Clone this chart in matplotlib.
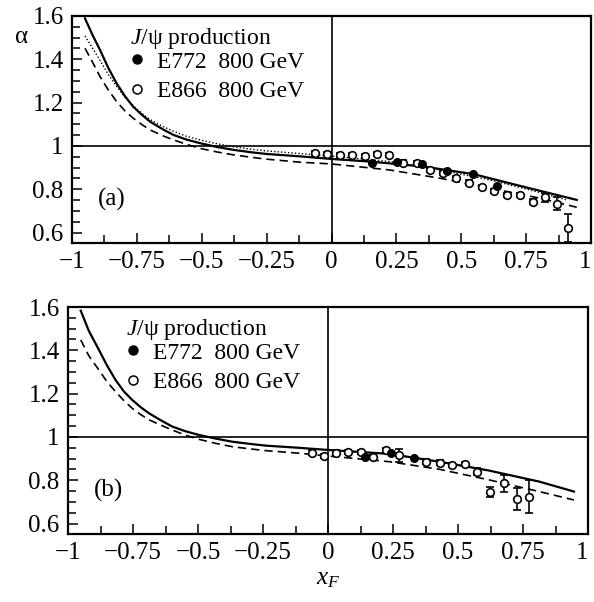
import matplotlib
matplotlib.use("Agg")
import matplotlib.pyplot as plt
from matplotlib.lines import Line2D
from matplotlib.ticker import MultipleLocator, FixedLocator, FixedFormatter

plt.rcParams['font.family'] = ['Liberation Serif', 'DejaVu Serif']
plt.rcParams['mathtext.fontset'] = 'custom'
plt.rcParams['mathtext.rm'] = 'Liberation Serif'
plt.rcParams['mathtext.it'] = 'Liberation Serif:italic'
plt.rcParams['axes.unicode_minus'] = True

FS = 17
TFS = 18

# ---------------- data ----------------
xticks = [-1, -0.75, -0.5, -0.25, 0, 0.25, 0.5, 0.75, 1]
xticklabels = ["\u22121", "\u22120.75", "\u22120.5", "\u22120.25", "0", "0.25", "0.5", "0.75", "1"]
yticks = [0.6, 0.8, 1.0, 1.2, 1.4, 1.6]
yticklabels = ["0.6", "0.8", "1", "1.2", "1.4", "1.6"]

# panel (a)
a_e866_x = [-0.064, -0.016, 0.033, 0.078, 0.129, 0.177, 0.223, 0.277, 0.328, 0.380, 0.431,
            0.480, 0.530, 0.579, 0.626, 0.678, 0.726, 0.778, 0.823, 0.870, 0.910]
a_e866_y = [0.966, 0.962, 0.959, 0.959, 0.954, 0.962, 0.959, 0.923, 0.920, 0.889, 0.874,
            0.851, 0.831, 0.812, 0.792, 0.774, 0.773, 0.743, 0.763, 0.733, 0.620]
a_e866_err = [0.01, 0.01, 0.01, 0.01, 0.01, 0.01, 0.01, 0.01, 0.01, 0.01, 0.01,
              0.01, 0.01, 0.01, 0.01, 0.01, 0.01, 0.01, 0.02, 0.03, 0.064]
a_e772_x = [0.155, 0.251, 0.348, 0.444, 0.544, 0.639]
a_e772_y = [0.923, 0.925, 0.916, 0.886, 0.870, 0.817]

a_solid_x = [-0.950, -0.920, -0.892, -0.860, -0.828, -0.796, -0.764, -0.730, -0.699, -0.650,
             -0.609, -0.560, -0.507, -0.440, -0.378, -0.310, -0.250, -0.121,
             0.0, 0.148, 0.354, 0.547, 0.739, 0.945]
a_solid_y = [1.589, 1.510, 1.443, 1.360, 1.289, 1.230, 1.181, 1.143, 1.112, 1.077,
             1.051, 1.030, 1.013, 0.995, 0.982, 0.971, 0.963, 0.952,
             0.940, 0.928, 0.905, 0.870, 0.812, 0.751]
a_dash_x = [-0.950, -0.920, -0.892, -0.860, -0.828, -0.796, -0.764, -0.730, -0.699, -0.650,
            -0.609, -0.560, -0.507, -0.440, -0.378, -0.310, -0.250, -0.121,
            0.0, 0.225, 0.418, 0.611, 0.803, 0.945]
a_dash_y = [1.451, 1.385, 1.320, 1.258, 1.205, 1.162, 1.128, 1.098, 1.074, 1.047,
            1.028, 1.008, 0.989, 0.972, 0.959, 0.948, 0.939, 0.925,
            0.917, 0.889, 0.851, 0.805, 0.759, 0.717]
a_dot_x = [-0.950, -0.920, -0.892, -0.860, -0.828, -0.796, -0.764, -0.730, -0.699, -0.650,
           -0.609, -0.560, -0.507, -0.440, -0.378, -0.310, -0.250, -0.121,
           0.0, 0.225, 0.418, 0.611, 0.803, 0.906]
a_dot_y = [1.508, 1.450, 1.395, 1.330, 1.275, 1.225, 1.185, 1.150, 1.122, 1.090,
           1.068, 1.045, 1.028, 1.010, 0.996, 0.985, 0.977, 0.965,
           0.953, 0.928, 0.889, 0.843, 0.785, 0.751]

# panel (b)
b_e866_x = [-0.063, -0.015, 0.032, 0.078, 0.126, 0.174, 0.222, 0.273, 0.376, 0.430,
            0.476, 0.526, 0.574, 0.623, 0.677, 0.726, 0.773]
b_e866_y = [0.928, 0.912, 0.928, 0.931, 0.932, 0.909, 0.940, 0.916, 0.886, 0.882,
            0.871, 0.875, 0.840, 0.746, 0.786, 0.713, 0.725]
b_e866_err = [0.01, 0.01, 0.01, 0.01, 0.01, 0.01, 0.01, 0.03, 0.01, 0.01,
              0.01, 0.01, 0.015, 0.023, 0.04, 0.05, 0.077]
b_e772_x = [0.142, 0.241, 0.331]
b_e772_y = [0.906, 0.928, 0.905]

b_solid_x = [-0.951, -0.920, -0.881, -0.850, -0.817, -0.785, -0.753, -0.720, -0.688, -0.640,
             -0.599, -0.550, -0.496, -0.430, -0.368, -0.300, -0.240, -0.112,
             0.0, 0.235, 0.427, 0.619, 0.812, 0.946]
b_solid_y = [1.583, 1.490, 1.402, 1.330, 1.263, 1.210, 1.171, 1.137, 1.109, 1.075,
             1.048, 1.027, 1.009, 0.992, 0.978, 0.968, 0.960, 0.950,
             0.940, 0.922, 0.886, 0.845, 0.794, 0.748]
b_dash_x = [-0.951, -0.920, -0.881, -0.850, -0.817, -0.785, -0.753, -0.720, -0.688, -0.640,
            -0.599, -0.550, -0.496, -0.430, -0.368, -0.300, -0.240, -0.112,
            0.0, 0.235, 0.427, 0.619, 0.812, 0.946]
b_dash_y = [1.448, 1.375, 1.309, 1.255, 1.209, 1.168, 1.132, 1.103, 1.079, 1.053,
            1.032, 1.009, 0.989, 0.970, 0.955, 0.945, 0.937, 0.925,
            0.912, 0.886, 0.851, 0.802, 0.748, 0.709]

legend_title = "$J$/\u03c8 production"
legend_labels = ["E772  800 GeV", "E866  800 GeV"]

# ---------------- figure ----------------
fig = plt.figure(figsize=(5.94, 6.02), dpi=100)
ax1 = fig.add_axes([72/594, 1 - 243/602, 519/594, 227/602])
ax2 = fig.add_axes([68/594, 1 - 534/602, 520/594, 227/602])


def style(ax, letter):
    ax.set_xlim(-1, 1)
    ax.set_ylim(0.552, 1.6)
    ax.axhline(1.0, color='black', lw=1.2, zorder=1)
    ax.axvline(0.0, color='black', lw=1.2, zorder=1)
    ax.xaxis.set_major_locator(FixedLocator(xticks))
    ax.xaxis.set_major_formatter(FixedFormatter(xticklabels))
    ax.xaxis.set_minor_locator(MultipleLocator(0.125))
    ax.yaxis.set_major_locator(FixedLocator(yticks))
    ax.yaxis.set_major_formatter(FixedFormatter(yticklabels))
    ax.yaxis.set_minor_locator(MultipleLocator(0.05))
    ax.tick_params(which='both', direction='in', top=False, right=False,
                   labelsize=TFS, width=1.1, colors='black')
    ax.tick_params(which='major', length=7.5, pad=6)
    ax.tick_params(which='minor', length=5.5)
    for s in ax.spines.values():
        s.set_linewidth(1.6)
    ax.text(0.05, 0.19, letter, transform=ax.transAxes, fontsize=TFS,
            ha='left', va='center')
    h = [Line2D([], [], ls='none', marker='o', ms=6.5, mfc='black', mec='black'),
         Line2D([], [], ls='none', marker='o', ms=6.5, mfc='white', mec='black', mew=1.1)]
    leg = ax.legend(h, legend_labels, title=legend_title, loc='upper left',
                    bbox_to_anchor=(0.112, 0.955), frameon=False, fontsize=FS,
                    title_fontsize=FS, handlelength=0.6, handletextpad=0.55,
                    labelspacing=0.33, borderpad=0.0, borderaxespad=0.0)
    leg._legend_box.align = 'left'
    leg._legend_box.sep = 0.0


style(ax1, "(a)")
style(ax2, "(b)")

# panel (a)
ax1.plot(a_solid_x, a_solid_y, color='black', lw=1.6, zorder=3)
ax1.plot(a_dash_x, a_dash_y, color='black', lw=1.2, ls=(0, (5, 3)), zorder=3)
ax1.plot(a_dot_x, a_dot_y, color='black', lw=1.0, ls=(0, (1, 1.5)), zorder=3)
ax1.errorbar(a_e866_x, a_e866_y, yerr=a_e866_err, fmt='o', ms=5.5, mfc='white', mec='black',
             mew=1.2, ecolor='black', elinewidth=1.2, capsize=3, capthick=1.2, zorder=4)
ax1.plot(a_e772_x, a_e772_y, 'o', ms=5.5, color='black', zorder=5)

# panel (b)
ax2.plot(b_solid_x, b_solid_y, color='black', lw=1.6, zorder=3)
ax2.plot(b_dash_x, b_dash_y, color='black', lw=1.2, ls=(0, (5, 3)), zorder=3)
ax2.errorbar(b_e866_x, b_e866_y, yerr=b_e866_err, fmt='o', ms=5.5, mfc='white', mec='black',
             mew=1.2, ecolor='black', elinewidth=1.2, capsize=3, capthick=1.2, zorder=4)
ax2.plot(b_e772_x, b_e772_y, 'o', ms=5.5, color='black', zorder=5)

fig.text(15/594, 1 - 37/602, "\u03b1", fontsize=TFS, ha='left', va='center')
ax2.set_xlabel("$x_F$", fontsize=TFS, labelpad=3)

# keep the rightmost tick label inside the figure
fig.canvas.draw()
for ax in (ax1, ax2):
    labs = ax.get_xticklabels()
    labs[-1].set_horizontalalignment('right')

fig.savefig("out.png", dpi=100)
